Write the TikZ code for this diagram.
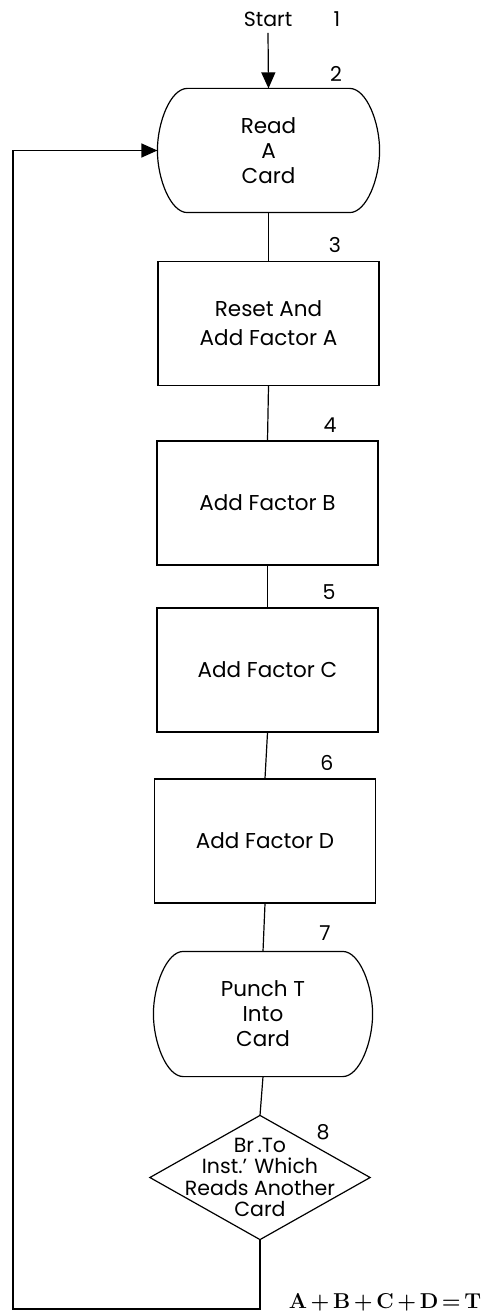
\documentclass[tikz,border=0pt]{standalone}
\usepackage[no-math]{fontspec}
\setmainfont{Poppins}
\newfontfamily\lmfont{Latin Modern Roman}
\usetikzlibrary{arrows.meta}
\newcommand{\termpath}[1]{%
 \draw ([xshift=30pt]#1.north west) -- ([xshift=-30pt]#1.north east)
   .. controls +(17,0) and +(0,28) .. (#1.east)
   .. controls +(0,-28) and +(17,0) .. ([xshift=-30pt]#1.south east)
   -- ([xshift=30pt]#1.south west)
   .. controls +(-17,0) and +(0,-28) .. (#1.west)
   .. controls +(0,28) and +(-17,0) .. ([xshift=30pt]#1.north west) -- cycle;}
\begin{document}
\begin{tikzpicture}[x=1pt,y=1pt,
  line width=1.2pt,
  lbl/.style={font=\fontsize{20.5}{22}\selectfont, inner sep=0pt},
  num/.style={font=\fontsize{20.5}{22}\selectfont, inner sep=0pt},
  procbox/.style={draw, minimum width=221pt, minimum height=124pt, inner sep=0pt, align=center, font=\fontsize{21.5}{29}\selectfont},
  termbox/.style={minimum width=221pt, minimum height=123pt, inner sep=0pt, align=center, font=\fontsize{21.5}{25}\selectfont},
  decbox/.style={minimum width=219pt, minimum height=123pt, inner sep=0pt, align=center, font=\fontsize{20.5}{21.5}\selectfont},
  eqstyle/.style={inner sep=0pt, font=\lmfont\bfseries\fontsize{21.5}{23}\selectfont},
  tip/.style={-{Triangle[length=16pt,width=14pt]}}
]
\useasboundingbox (0,0) rectangle (482,-1313);
\node[lbl] (start) at (268,-19) {Start};
\node[num] (n1) at (337,-19) {1};
\node[termbox] (t1) at (268.5,-150.5) {Read\\A\\Card};
\termpath{t1}
\node[num] (n2) at (336,-74) {2};
\node[procbox] (b3) at (268.5,-323.5) {Reset And\\Add Factor A};
\node[num] (n3) at (335,-245) {3};
\node[procbox] (b4) at (267.5,-503) {Add Factor B};
\node[num] (n4) at (330,-425) {4};
\node[procbox] (b5) at (267.5,-670) {Add Factor C};
\node[num] (n5) at (329,-592) {5};
\node[procbox] (b6) at (265,-841) {Add Factor D};
\node[num] (n6) at (327,-763) {6};
\node[termbox, minimum width=218pt, minimum height=124pt] (t2) at (263,-1014) {Punch T\\Into\\Card};
\termpath{t2}
\node[num] (n7) at (325,-933) {7};
\node[decbox] (d8) at (260,-1177.5) {Br\,.To\\Inst.' Which\\Reads Another\\Card};
\draw (d8.north) -- (d8.east) -- (d8.south) -- (d8.west) -- cycle;
\node[num] (n8) at (323,-1132) {8};
\node[eqstyle] (eq) at (385,-1302) {A\,+\,B\,+\,C\,+\,D\,=\,T};
\coordinate (lb) at (13,-1309);
\draw[tip] ([yshift=-6pt]start.south) -- (t1.north);
\draw (t1.south) -- (b3.north);
\draw (b3.south) -- (b4.north);
\draw (b4.south) -- (b5.north);
\draw (b5.south) -- (b6.north);
\draw (b6.south) -- (t2.north);
\draw (t2.south) -- (d8.north);
\draw[tip] (d8.south) |- (lb) |- (t1.west);
\end{tikzpicture}
\end{document}
